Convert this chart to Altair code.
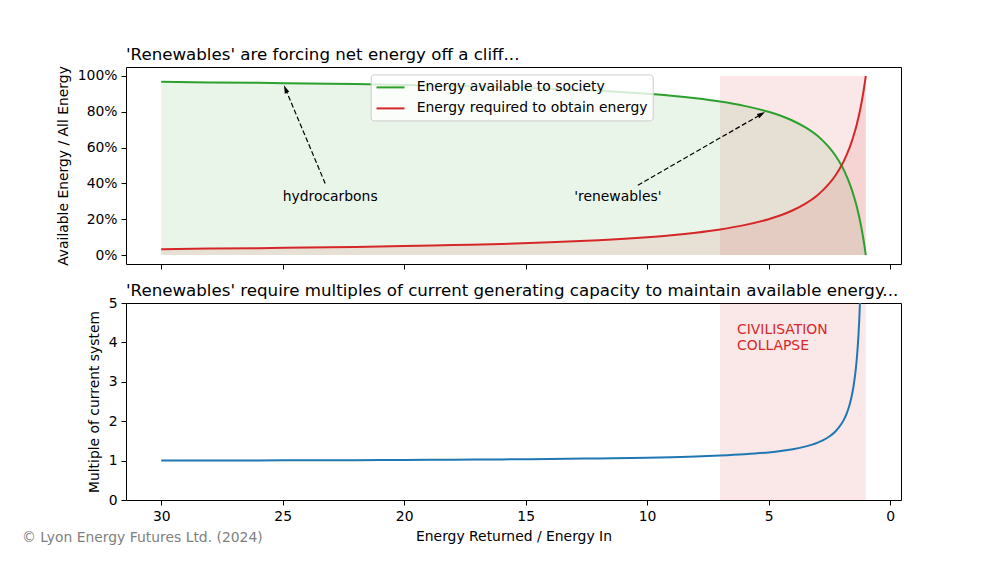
import altair as alt
import pandas as pd

# ---------------- data ----------------
eroi = [30, 28, 26, 24, 22, 20, 18, 16, 14, 12, 10, 9, 8, 7, 6, 5, 4.5, 4, 3.5, 3,
        2.75, 2.5, 2.25, 2, 1.9, 1.8, 1.7, 1.6, 1.5, 1.45, 1.4, 1.35, 1.3, 1.25, 1.2,
        1.15, 1.1, 1.06, 1.03, 1.01, 1.0]
available = [0.967, 0.964, 0.962, 0.958, 0.955, 0.950, 0.944, 0.938, 0.929, 0.917,
             0.900, 0.889, 0.875, 0.857, 0.833, 0.800, 0.778, 0.750, 0.714, 0.667,
             0.636, 0.600, 0.556, 0.500, 0.474, 0.444, 0.412, 0.375, 0.333, 0.310,
             0.286, 0.259, 0.231, 0.200, 0.167, 0.130, 0.091, 0.057, 0.029, 0.010, 0.000]
required = [0.033, 0.036, 0.038, 0.042, 0.045, 0.050, 0.056, 0.062, 0.071, 0.083,
            0.100, 0.111, 0.125, 0.143, 0.167, 0.200, 0.222, 0.250, 0.286, 0.333,
            0.364, 0.400, 0.444, 0.500, 0.526, 0.556, 0.588, 0.625, 0.667, 0.690,
            0.714, 0.741, 0.769, 0.800, 0.833, 0.870, 0.909, 0.943, 0.971, 0.990, 1.000]
mult_eroi = [30, 28, 26, 24, 22, 20, 18, 16, 14, 12, 10, 9, 8, 7, 6, 5, 4.5, 4, 3.5, 3,
             2.75, 2.5, 2.25, 2, 1.9, 1.8, 1.7, 1.6, 1.5, 1.45, 1.4, 1.35, 1.3, 1.25, 1.2]
multiple = [1.000, 1.003, 1.005, 1.009, 1.012, 1.018, 1.024, 1.031, 1.041, 1.055,
            1.074, 1.088, 1.105, 1.128, 1.160, 1.208, 1.243, 1.289, 1.354, 1.450,
            1.520, 1.611, 1.739, 1.933, 2.041, 2.175, 2.348, 2.578, 2.900, 3.122,
            3.383, 3.729, 4.190, 4.833, 5.800]
series_names = ["Energy available to society", "Energy required to obtain energy"]
x_ticks = [30, 25, 20, 15, 10, 5, 0]
pct_ticks = [0, 0.2, 0.4, 0.6, 0.8, 1.0]
mult_ticks = [0, 1, 2, 3, 4, 5]
collapse_from, collapse_to = 7, 1

annot_labels = ["hydrocarbons", "'renewables'"]
annot_text_x = [25, 13]
annot_text_y = [0.3, 0.3]
arrow_tail_x = [23.24, 10.38]
arrow_tail_y = [0.396, 0.39]
arrow_head_x = [24.885, 5.29]
arrow_head_y = [0.927, 0.787]
arrow_angle = [337.1, 60.3]

title_top = "'Renewables' are forcing net energy off a cliff..."
title_bottom = ("'Renewables' require multiples of current generating capacity "
                "to maintain available energy...")
collapse_lines = ["CIVILISATION", "COLLAPSE"]
copyright_text = "\u00a9 Lyon Energy Futures Ltd. (2024)"

# ---------------- styling ----------------
FONT = "DejaVu Sans"
GREEN, RED, BLUE = "#2ca02c", "#d62728", "#1f77b4"
LBL = 13.9
TTL = 16.67
W, H = 775, 197

xscale = alt.Scale(domain=[-0.45, 31.45], reverse=True, nice=False, zero=False)
yscale_top = alt.Scale(domain=[-0.05, 1.05], nice=False, zero=False)
yscale_bot = alt.Scale(domain=[0, 5], nice=False, zero=False)

xaxis_top = alt.Axis(values=x_ticks, labels=False, ticks=True, title=None)
xaxis_bot = alt.Axis(values=x_ticks, format="d", title="Energy Returned / Energy In")
yaxis_top = alt.Axis(values=pct_ticks, format=".0%", title="Available Energy / All Energy")
yaxis_bot = alt.Axis(values=mult_ticks, format="d", title="Multiple of current system")


def xt(field):
    return alt.X(field, type="quantitative", scale=xscale, axis=xaxis_top)


def yt(field):
    return alt.Y(field, type="quantitative", scale=yscale_top, axis=yaxis_top)


def xb(field):
    return alt.X(field, type="quantitative", scale=xscale, axis=xaxis_bot)


def yb(field):
    return alt.Y(field, type="quantitative", scale=yscale_bot, axis=yaxis_bot)


top_df = pd.DataFrame({"eroi": eroi, "available": available, "required": required})
long_df = pd.concat([
    pd.DataFrame({"eroi": eroi, "value": available, "series": series_names[0]}),
    pd.DataFrame({"eroi": eroi, "value": required, "series": series_names[1]}),
], ignore_index=True)
band_top = pd.DataFrame({"x": [collapse_from], "x2": [collapse_to], "y": [0.0], "y2": [1.0]})
band_bot = pd.DataFrame({"x": [collapse_from], "x2": [collapse_to], "y": [0.0], "y2": [5.0]})
annot_df = pd.DataFrame({"label": annot_labels, "x": annot_text_x, "y": annot_text_y})
arrow_lines = pd.DataFrame({
    "arrow": [0, 0, 1, 1],
    "x": [arrow_tail_x[0], arrow_head_x[0], arrow_tail_x[1], arrow_head_x[1]],
    "y": [arrow_tail_y[0], arrow_head_y[0], arrow_tail_y[1], arrow_head_y[1]],
})
arrow_heads = pd.DataFrame({"x": arrow_head_x, "y": arrow_head_y, "ang": arrow_angle})
mult_df = pd.DataFrame({"eroi": mult_eroi, "multiple": multiple})

# ---------------- top panel ----------------
green_area = alt.Chart(top_df).mark_area(color=GREEN, opacity=0.1, interpolate="monotone").encode(
    x=xt("eroi"), y=yt("available"), y2=alt.datum(0))
red_area = alt.Chart(top_df).mark_area(color=RED, opacity=0.1, interpolate="monotone").encode(
    x=xt("eroi"), y=yt("required"), y2=alt.datum(0))
band1 = alt.Chart(band_top).mark_rect(color=RED, opacity=0.1, stroke=RED, strokeOpacity=0.08,
                                      strokeWidth=1).encode(
    x=xt("x"), x2="x2", y=yt("y"), y2="y2")
lines = alt.Chart(long_df).mark_line(strokeWidth=2, interpolate="monotone").encode(
    x=xt("eroi"), y=yt("value"),
    color=alt.Color("series:N", scale=alt.Scale(domain=series_names, range=[GREEN, RED]),
                    legend=alt.Legend(title=None, orient="none", legendX=244.7, legendY=7.4,
                                      padding=5, symbolType="M-2,0H2", symbolSize=196,
                                      symbolStrokeWidth=2, symbolOffset=6.8, labelOffset=18.2,
                                      rowPadding=6, labelFontSize=LBL, labelFont=FONT,
                                      labelColor="black", fillColor="rgba(255,255,255,0.8)",
                                      strokeColor="#cccccc", cornerRadius=3, labelLimit=500)),
    order=alt.Order("eroi:Q"))
arrows = alt.Chart(arrow_lines).mark_line(color="black", strokeWidth=1.2, strokeDash=[5, 2.5]).encode(
    x=xt("x"), y=yt("y"), detail="arrow:N")
heads = alt.Chart(arrow_heads).mark_point(shape="M0,-1L0.6,1L-0.6,1Z", filled=True, size=64,
                                          color="black", opacity=1).encode(
    x=xt("x"), y=yt("y"), angle=alt.Angle("ang:Q", scale=None))
annots = alt.Chart(annot_df).mark_text(align="left", baseline="alphabetic", fontSize=LBL,
                                       font=FONT, color="black").encode(
    x=xt("x"), y=yt("y"), text="label:N")

top = alt.layer(green_area, red_area, band1, lines, arrows, heads, annots).properties(
    width=W, height=H,
    title=alt.TitleParams(title_top, anchor="start", frame="group", fontSize=TTL,
                          fontWeight="normal", font=FONT, color="black", offset=2))

# ---------------- bottom panel ----------------
band2 = alt.Chart(band_bot).mark_rect(color=RED, opacity=0.1, stroke=RED, strokeOpacity=0.08,
                                      strokeWidth=1).encode(
    x=xb("x"), x2="x2", y=yb("y"), y2="y2")
mline = alt.Chart(mult_df).mark_line(color=BLUE, strokeWidth=2, interpolate="monotone",
                                     clip=True).encode(x=xb("eroi"), y=yb("multiple"))
collapse = alt.Chart(pd.DataFrame({"x": [6.3], "y": [4.5], "t": [collapse_lines]})).mark_text(
    align="left", baseline="top", fontSize=LBL, font=FONT, color=RED, lineHeight=16.8).encode(
    x=xb("x"), y=yb("y"), text="t")
copyr = alt.Chart(pd.DataFrame({"t": [copyright_text]})).mark_text(
    align="left", baseline="middle", fontSize=LBL, font=FONT, color="#808080").encode(
    x=alt.value(-104), y=alt.value(235), text="t:N")

bottom = alt.layer(band2, mline, collapse, copyr).properties(
    width=W, height=H,
    title=alt.TitleParams(title_bottom, anchor="start", frame="group", fontSize=TTL,
                          fontWeight="normal", font=FONT, color="black", offset=-4))

chart = alt.vconcat(top, bottom, spacing=12).resolve_scale(color="independent").properties(
    padding={"left": 13, "top": 38, "right": 5, "bottom": 5}
).configure(background="white").configure_view(stroke="black", strokeWidth=1).configure_axis(
    labelFont=FONT, titleFont=FONT, labelFontSize=LBL, titleFontSize=LBL,
    labelColor="black", titleColor="black", tickColor="black", titleFontWeight="normal",
    grid=False, domain=False, tickSize=5, labelPadding=4, titlePadding=7
)

chart.save("out.html", embed_options={"renderer": "svg", "actions": False})
